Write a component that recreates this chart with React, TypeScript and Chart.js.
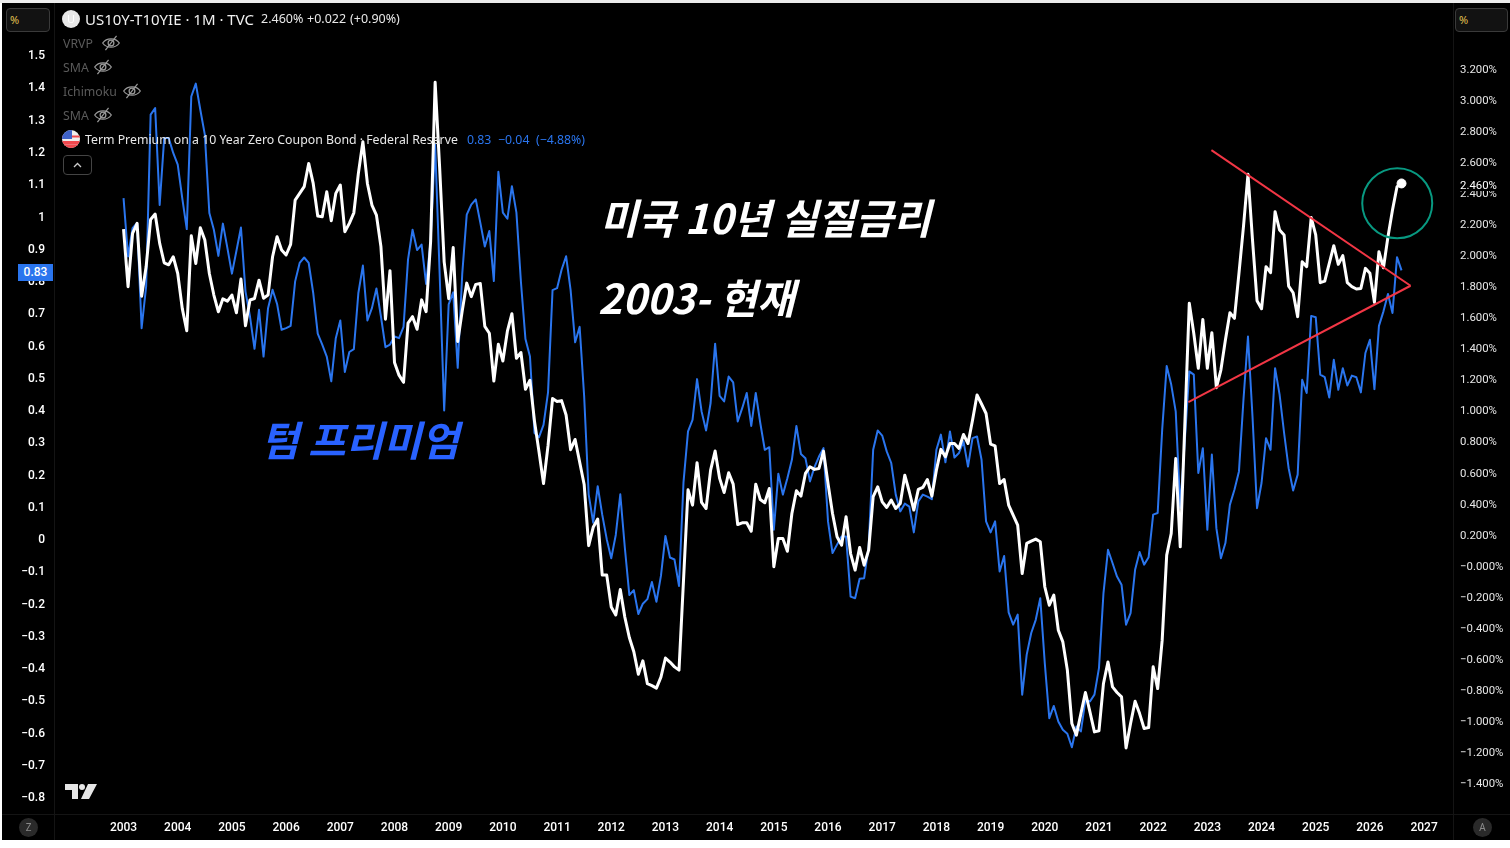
import React, { useEffect, useRef } from "react";
import { Chart, registerables } from "chart.js";

Chart.register(...registerables);

const yearLabels = ["2003","2004","2005","2006","2007","2008","2009","2010","2011","2012","2013","2014","2015","2016","2017","2018","2019","2020","2021","2022","2023","2024","2025","2026","2027"];

const realYield = [
  2.166,1.795,2.138,2.203,1.734,1.923,2.228,2.263,2.074,1.949,1.936,1.988,
  1.880,1.655,1.511,2.123,1.945,2.175,2.095,1.880,1.741,1.633,1.717,1.702,
  1.741,1.627,1.844,1.543,1.709,1.719,1.837,1.721,1.741,1.988,2.117,2.031,
  1.999,2.067,2.353,2.396,2.439,2.589,2.460,2.250,2.246,2.407,2.220,2.396,
  2.450,2.149,2.203,2.271,2.525,2.729,2.460,2.321,2.256,2.052,1.586,1.898,
  1.307,1.225,1.179,1.560,1.602,1.521,1.710,1.634,2.086,3.112,2.560,1.955,
  1.718,2.047,1.442,1.639,1.818,1.731,1.810,1.815,1.539,1.495,1.187,1.424,
  1.316,1.508,1.621,1.334,1.371,1.134,1.192,0.929,0.732,0.527,0.771,1.074,
  1.055,1.061,0.968,0.745,0.811,0.666,0.521,0.127,0.245,0.298,-0.063,-0.063,
  -0.268,-0.320,-0.155,-0.333,-0.465,-0.557,-0.702,-0.615,-0.762,-0.775,-0.791,-0.720,
  -0.597,-0.623,-0.654,-0.675,-0.097,0.487,0.388,0.661,0.405,0.366,0.613,0.736,
  0.560,0.469,0.596,0.523,0.263,0.274,0.274,0.220,0.523,0.424,0.403,0.495,
  -0.009,0.173,0.173,0.091,0.334,0.480,0.446,0.592,0.635,0.618,0.624,0.736,
  0.527,0.334,0.184,0.130,0.313,0.076,-0.031,0.115,0.001,0.098,0.442,0.506,
  0.409,0.373,0.420,0.366,0.399,0.581,0.474,0.356,0.489,0.502,0.553,0.446,
  0.613,0.747,0.699,0.785,0.785,0.753,0.843,0.785,0.935,1.097,1.039,0.978,
  0.781,0.770,0.527,0.553,0.388,0.323,0.259,-0.053,0.141,0.156,0.169,0.152,
  -0.138,-0.257,-0.192,-0.418,-0.493,-0.675,-1.019,-1.094,-0.955,-0.819,-0.944,-1.073,
  -1.066,-0.761,-0.622,-0.783,-0.819,-0.847,-1.176,-1.019,-0.875,-0.955,-1.051,-1.045,
  -0.654,-0.794,-0.482,0.066,0.205,0.688,0.119,0.893,1.688,1.494,1.269,1.584,
  1.269,1.499,1.144,1.258,1.451,1.627,1.591,1.881,2.182,2.519,2.096,1.705,
  1.653,1.924,1.885,2.278,2.160,2.128,1.799,1.756,1.602,1.956,1.924,2.240,
  2.128,1.821,1.831,1.945,2.059,1.939,1.995,1.821,1.795,1.780,1.784,1.913,
  1.881,1.694,2.020,1.917,2.117,2.289,2.439,2.460,
];

const termPremium = [
  1.054,0.873,0.961,0.977,0.651,0.780,1.313,1.333,1.033,1.240,1.240,1.194,
  1.158,1.054,0.958,1.369,1.409,1.328,1.251,1.008,0.956,0.875,0.975,0.899,
  0.820,0.891,0.963,0.765,0.687,0.587,0.708,0.563,0.713,0.770,0.726,0.646,
  0.651,0.658,0.796,0.853,0.870,0.853,0.760,0.634,0.600,0.563,0.486,0.620,
  0.675,0.515,0.577,0.586,0.760,0.845,0.675,0.713,0.774,0.687,0.592,0.600,
  0.625,0.620,0.655,0.864,0.956,0.893,0.910,0.788,0.921,1.220,0.819,0.396,
  0.725,0.762,0.528,0.819,1.003,1.034,1.050,0.978,0.904,0.952,0.797,1.136,
  1.009,0.990,1.091,1.009,0.794,0.617,0.563,0.326,0.313,0.351,0.452,0.769,
  0.775,0.832,0.874,0.769,0.607,0.655,0.440,0.136,0.048,0.161,0.073,-0.003,
  -0.062,0.010,0.136,-0.028,-0.176,-0.161,-0.235,-0.203,-0.189,-0.136,-0.197,-0.117,
  0.007,-0.060,-0.066,-0.148,0.174,0.331,0.367,0.493,0.393,0.334,0.419,0.603,
  0.441,0.424,0.501,0.483,0.362,0.403,0.450,0.348,0.450,0.357,0.274,0.282,
  0.026,0.200,0.135,0.186,0.243,0.348,0.261,0.248,0.176,0.220,0.253,0.279,
  0.052,-0.046,-0.020,0.005,0.005,-0.181,-0.186,-0.126,-0.124,-0.026,0.274,0.334,
  0.318,0.269,0.233,0.135,0.083,0.107,0.098,0.018,0.114,0.135,0.129,0.121,
  0.274,0.321,0.235,0.331,0.250,0.264,0.300,0.222,0.310,0.315,0.243,0.052,
  0.018,0.052,-0.103,-0.055,-0.230,-0.268,-0.237,-0.485,-0.361,-0.294,-0.253,-0.186,
  -0.387,-0.558,-0.520,-0.568,-0.594,-0.606,-0.648,-0.584,-0.599,-0.501,-0.506,-0.485,
  -0.403,-0.170,-0.036,-0.077,-0.119,-0.144,-0.268,-0.232,-0.098,-0.043,-0.082,-0.059,
  0.073,0.078,0.336,0.534,0.476,0.392,0.094,0.300,0.517,0.507,0.202,0.279,
  0.026,0.259,0.031,-0.062,-0.015,0.104,0.150,0.207,0.429,0.625,0.377,0.093,
  0.171,0.310,0.274,0.527,0.445,0.326,0.217,0.148,0.197,0.491,0.450,0.689,
  0.685,0.507,0.499,0.436,0.553,0.460,0.527,0.473,0.504,0.499,0.452,0.574,
  0.615,0.462,0.658,0.703,0.757,0.698,0.871,0.830,
];

// Trend lines and the highlight circle: [month index, real yield %]
const upperTrend = [[240.9, 2.675], [285.0, 1.801]];
const lowerTrend = [[235.8, 1.052], [285.0, 1.801]];
const circleCentre = [[282.05, 2.332]];

const WHITE = "#ffffff";
const BLUE = "#2a75ee";
const RED = "#f23645";
const GREEN = "#089981";
const TICK_FONT = "Roboto";
const UI_FONT = "'Noto Sans'";

const pts = (a: number[]) => a.map((y, x) => ({ x, y }));
const pairs = (a: number[][]) => a.map(([x, y]) => ({ x, y }));
const minus = (s: string) => s.replace("-", "\u2212");
const noPadV = (s: any) => { s.paddingTop = 0; s.paddingBottom = 0; };

const Eye = ({ x, y }: { x: number; y: number }) => (
  <svg style={{ position: "absolute", left: x - 10, top: y - 9 }} width="20" height="18" viewBox="0 0 18 16" fill="none" stroke="#9a9a9a" strokeWidth="1.1">
    <path d="M1.5 8 C5 3 13 3 16.5 8 C13 13 5 13 1.5 8 Z" />
    <circle cx="9" cy="8" r="2.6" />
    <path d="M4 14.5 L14 1.5" />
  </svg>
);

const abs = (x: number, y: number, extra: React.CSSProperties = {}): React.CSSProperties => ({
  position: "absolute", left: x, top: y, whiteSpace: "nowrap", lineHeight: 1, ...extra,
});

export default function App() {
  const ref = useRef<HTMLCanvasElement>(null);
  useEffect(() => {
    document.body.style.margin = "0";
    document.body.style.background = "#ffffff";
    const chart = new Chart(ref.current!, {
      type: "line",
      data: {
        datasets: [
          { label: "US10Y-T10YIE", data: pts(realYield), yAxisID: "yr", borderColor: WHITE, borderWidth: 3, pointRadius: 0, tension: 0, order: 2, borderJoinStyle: "round" },
          { label: "Term Premium", data: pts(termPremium), yAxisID: "yl", borderColor: BLUE, borderWidth: 2, pointRadius: 0, tension: 0, order: 3, borderJoinStyle: "round" },
          { label: "upper", data: pairs(upperTrend), yAxisID: "yr", borderColor: RED, borderWidth: 2, pointRadius: 0, order: 1 },
          { label: "lower", data: pairs(lowerTrend), yAxisID: "yr", borderColor: RED, borderWidth: 2, pointRadius: 0, order: 1 },
          { label: "circle", data: pairs(circleCentre), yAxisID: "yr", showLine: false, pointRadius: 35, pointBorderColor: GREEN, pointBorderWidth: 2, pointBackgroundColor: "rgba(0,0,0,0)", order: 1 },
          { label: "last", data: [{ x: realYield.length - 1, y: realYield[realYield.length - 1] }], yAxisID: "yr", showLine: false, pointRadius: 4.5, pointBackgroundColor: WHITE, pointBorderColor: WHITE, order: 0 },
        ],
      },
      options: {
        responsive: false,
        animation: false,
        events: [],
        layout: { autoPadding: false, padding: { top: 3, left: 0, right: 0, bottom: 0 } },
        plugins: { legend: { display: false }, tooltip: { enabled: false } },
        scales: {
          x: {
            type: "linear",
            min: -15.4,
            max: 294.4,
            grid: { display: false, drawTicks: false },
            border: { display: false },
            afterBuildTicks: (s: any) => { s.ticks = yearLabels.map((_, i) => ({ value: i * 12 })); },
            afterFit: (s: any) => { s.height = 34; s.paddingLeft = 0; s.paddingRight = 0; },
            ticks: {
              autoSkip: false, maxRotation: 0, color: WHITE, padding: 7,
              font: { family: TICK_FONT, size: 12, weight: "500" },
              callback: (v: any) => yearLabels[Math.round(Number(v) / 12)],
            },
          },
          yl: {
            position: "left",
            min: -0.8549,
            max: 1.6588,
            grid: { display: false, drawTicks: false },
            border: { display: false },
            afterBuildTicks: (s: any) => {
              s.ticks = s.ticks.filter((t: any) => t.value <= 1.51);
            },
            afterFit: (s: any) => { s.width = 54; noPadV(s); },
            ticks: {
              stepSize: 0.1, color: WHITE, padding: 9, autoSkip: false, includeBounds: false,
              font: { family: TICK_FONT, size: 12, weight: "500", lineHeight: "4px" },
              // The empty first line moves the label down half a line, centring it as in the reference.
              callback: (v: any) => ["", minus(String(Math.round(Number(v) * 10) / 10))],
            },
          },
          yr: {
            position: "right",
            min: -1.6018,
            max: 3.6224,
            grid: { display: false, drawTicks: false },
            border: { display: false },
            afterBuildTicks: (s: any) => {
              s.ticks = s.ticks.filter((t: any) => t.value <= 3.21 && t.value >= -1.41);
            },
            afterFit: (s: any) => { s.width = 57; noPadV(s); },
            ticks: {
              stepSize: 0.2, color: "#e6e6e6", padding: 7, autoSkip: false, includeBounds: false,
              font: { family: TICK_FONT, size: 11.4, lineHeight: "3px" },
              callback: (v: any) => {
                const r = Math.round(Number(v) * 10) / 10;
                const s = Math.abs(r).toFixed(3) + "%";
                return ["", r <= 0 ? "\u2212" + s : s];
              },
            },
          },
        },
      } as any,
    });
    return () => chart.destroy();
  }, []);

  const koStyle: React.CSSProperties = {
    fontFamily: "'Noto Sans CJK KR'", fontStyle: "italic", fontWeight: 700, fontSize: 41, color: WHITE,
  };
  const ui = { fontFamily: UI_FONT, fontSize: 12.3, color: "#e8e8e8" };
  const faint = { fontFamily: UI_FONT, fontSize: 12.3, color: "#5a5a5a" };
  const btn: React.CSSProperties = { position: "absolute", boxSizing: "border-box", background: "#121212", border: "1px solid #3a3a3a", borderRadius: 4 };

  return (
    <div style={{ position: "relative", width: 1510, height: 848, overflow: "hidden", background: "#ffffff", fontFamily: UI_FONT }}>
      <div style={{ position: "absolute", left: 0, top: 0, width: 1510, height: 3, background: "#ececec" }} />
      <div style={{ position: "absolute", left: 2, top: 3, width: 1508, height: 837, background: "#000000" }} />
      <div style={{ position: "absolute", left: 54, top: 3, width: 1, height: 837, background: "#141414" }} />
      <div style={{ position: "absolute", left: 1453, top: 3, width: 1, height: 837, background: "#141414" }} />
      <div style={{ position: "absolute", left: 2, top: 814, width: 1508, height: 1, background: "#141414" }} />
      <canvas ref={ref} width={1510} height={848} style={{ position: "absolute", left: 0, top: 0, width: 1510, height: 848 }} />

      <div style={{ ...btn, left: 6, top: 8, width: 44, height: 24 }} />
      <div style={abs(10, 14, { fontFamily: UI_FONT, fontSize: 11, color: "#e0c050" })}>%</div>
      <div style={{ ...btn, left: 1455, top: 8, width: 53, height: 24 }} />
      <div style={abs(1459, 14, { fontFamily: UI_FONT, fontSize: 11, color: "#e0c050" })}>%</div>

      <div style={{ position: "absolute", left: 62, top: 10, width: 18, height: 18, borderRadius: 9, background: "#e8e8e8", color: "#ffffff", fontSize: 11, textAlign: "center", lineHeight: "18px" }}>U</div>
      <div style={abs(85, 12, { fontFamily: UI_FONT, fontSize: 15, color: "#f0f0f0" })}>US10Y-T10YIE · 1M · TVC</div>
      <div style={abs(261, 13, { ...ui, fontSize: 12.5 })}>2.460%</div>
      <div style={abs(307, 13, { ...ui, fontSize: 12.5 })}>+0.022</div>
      <div style={abs(350, 13, { ...ui, fontSize: 12.5 })}>(+0.90%)</div>

      <div style={abs(63, 38, faint)}>VRVP</div><Eye x={111} y={43} />
      <div style={abs(63, 62, faint)}>SMA</div><Eye x={103} y={67} />
      <div style={abs(63, 86, faint)}>Ichimoku</div><Eye x={132} y={91} />
      <div style={abs(63, 110, faint)}>SMA</div><Eye x={103} y={115} />

      <svg style={{ position: "absolute", left: 62, top: 130 }} width="18" height="18" viewBox="0 0 18 18">
        <defs><clipPath id="flagClip"><circle cx="9" cy="9" r="9" /></clipPath></defs>
        <g clipPath="url(#flagClip)">
          <rect width="18" height="18" fill="#eeeeee" />
          <rect y="11" width="18" height="3.5" fill="#f0484e" />
          <rect y="14.5" width="18" height="3.5" fill="#f0484e" />
          <rect y="5.5" width="18" height="2" fill="#f0484e" />
          <rect width="10" height="9" fill="#3f62c8" />
        </g>
      </svg>
      <div style={abs(85, 134, ui)}>Term Premium on a 10 Year Zero Coupon Bond · Federal Reserve</div>
      <div style={abs(467, 134, { ...ui, color: BLUE })}>0.83</div>
      <div style={abs(498, 134, { ...ui, color: BLUE })}>−0.04</div>
      <div style={abs(536, 134, { ...ui, color: BLUE })}>(−4.88%)</div>
      <div style={{ ...btn, left: 63, top: 155, width: 29, height: 20, background: "#000", borderColor: "#444" }}>
        <svg width="27" height="18" viewBox="0 0 27 18" fill="none" stroke="#cccccc" strokeWidth="1.3"><path d="M10 11 L13.5 7.5 L17 11" /></svg>
      </div>

      <div style={abs(600, 196, koStyle)}>미국 10년 실질금리</div>
      <div style={abs(598, 276, koStyle)}>2003- 현재</div>
      <div style={abs(261, 418, { ...koStyle, color: "#2962ff" })}>텀 프리미엄</div>

      <div style={{ position: "absolute", left: 18, top: 264, width: 35, height: 17, background: BLUE, color: "#ffffff", fontFamily: TICK_FONT, fontSize: 12, fontWeight: 500, textAlign: "center", lineHeight: "17px" }}>0.83</div>
      <div style={{ position: "absolute", left: 1454, top: 178, width: 50, height: 13, background: "#000000", color: "#ffffff", fontFamily: TICK_FONT, fontSize: 11.4, paddingLeft: 6, lineHeight: "14px", boxSizing: "border-box" }}>2.460%</div>

      <svg style={{ position: "absolute", left: 65, top: 784 }} width="32" height="15" viewBox="0 0 32 15" fill="#e6e6e6">
        <path d="M0 0 H13 V15 H7 V6 H0 Z" />
        <circle cx="17" cy="3" r="3" />
        <path d="M23 0 H32 L24 15 H16 Z" />
      </svg>
      <div style={{ position: "absolute", left: 19, top: 818, width: 19, height: 19, borderRadius: 10, background: "#2a2a2a", color: "#8a8a8a", fontSize: 10, textAlign: "center", lineHeight: "19px" }}>Z</div>
      <div style={{ position: "absolute", left: 1473, top: 818, width: 19, height: 19, borderRadius: 10, background: "#2a2a2a", color: "#8a8a8a", fontSize: 10, textAlign: "center", lineHeight: "19px" }}>A</div>
    </div>
  );
}
